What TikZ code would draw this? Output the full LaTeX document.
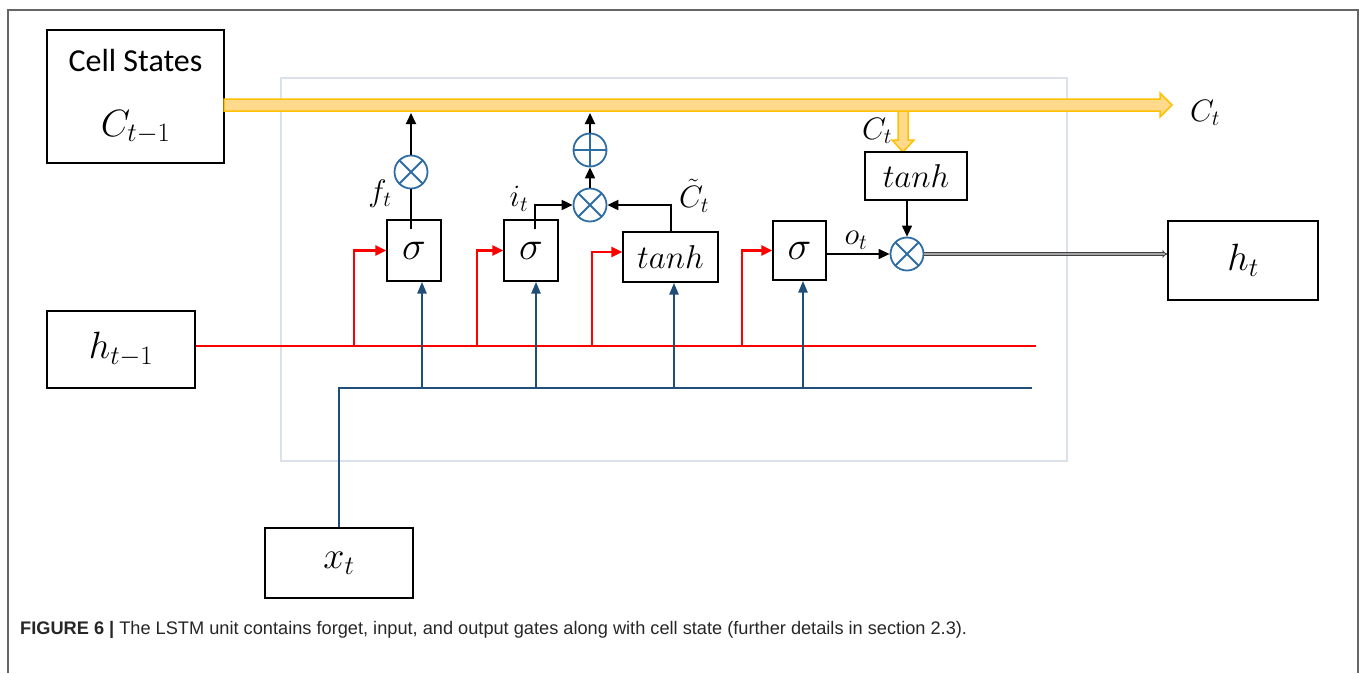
\RequirePackage{fix-cm}
\documentclass[tikz,border=0pt]{standalone}
\usepackage{fontspec}
\newfontfamily\calib{Carlito}
\newfontfamily\arial{Liberation Sans}
\usetikzlibrary{arrows.meta,calc}
\definecolor{yfill}{HTML}{FFD98C}
\definecolor{ydraw}{HTML}{FFC000}
\definecolor{bluel}{HTML}{1F4E79}
\definecolor{bluec}{HTML}{2E6DA4}
\definecolor{frameg}{HTML}{DAE1EA}
\tikzset{
  box/.style={draw=black, line width=1.4pt, inner sep=0pt, fill=white},
  opc/.style={circle, draw=bluec, line width=1.8pt, fill=white, minimum size=33pt, inner sep=0pt},
  mult/.style={opc, path picture={\draw[bluec, line width=1.8pt]
      ($(path picture bounding box.center)+(45:17)$) -- ($(path picture bounding box.center)+(225:17)$)
      ($(path picture bounding box.center)+(135:17)$) -- ($(path picture bounding box.center)+(315:17)$);}},
  addop/.style={opc, path picture={\draw[bluec, line width=1.8pt]
      ($(path picture bounding box.center)+(-17,0)$) -- ($(path picture bounding box.center)+(17,0)$)
      ($(path picture bounding box.center)+(0,-17)$) -- ($(path picture bounding box.center)+(0,17)$);}},
  blkarr/.style={draw=black, line width=2pt, -{Triangle[length=11pt,width=10pt]}},
  thinarr/.style={draw=black, line width=1.2pt, -{Triangle[length=11pt,width=10pt]}},
  bluearr/.style={draw=bluel, line width=2.6pt, -{Triangle[length=12pt,width=9pt]}},
  redarr/.style={draw=red, line width=2.6pt, -{Triangle[length=11pt,width=10pt]}},
  lbl/.style={inner sep=0pt, font=\fontsize{31}{34}\selectfont},
  mbig/.style={font=\fontsize{38}{42}\selectfont},
  sig/.style={font=\fontsize{40}{44}\selectfont},
  tnh/.style={font=\fontsize{33}{36}\selectfont},
}
\begin{document}
\begin{tikzpicture}[x=1pt,y=-1pt]
\useasboundingbox (0,0) rectangle (1360,673);
% outer frame
\draw[black!60, line width=1.4pt] (8,673) -- (8,10) -- (1358,10) -- (1358,673);
% inner light frame
\draw[frameg, line width=1.6pt] (281,78) rectangle (1067,461);

% boxes
\node[box, minimum width=177pt, minimum height=133pt] (cs) at (135.5,96.5) {};
\node[font=\calib\fontsize{32}{36}\selectfont] (cstxt) at (135.5,61) {Cell States};
\node[mbig] (cprev) at (135.5,127) {$C_{t-1}$};
\node[box, minimum width=148pt, minimum height=77pt, mbig] (hprev) at (121,349.5) {$h_{t-1}$};
\node[box, minimum width=148pt, minimum height=70pt, mbig] (xt) at (339,563) {$x_t$};
\node[box, minimum width=150pt, minimum height=79pt, mbig] (ht) at (1243,260.5) {$h_t$};
\node[box, minimum width=54pt, minimum height=61pt, sig] (sf) at (414,250.5) {$\sigma$};
\node[box, minimum width=54pt, minimum height=61pt, sig] (si) at (531,250.5) {$\sigma$};
\node[box, minimum width=95pt, minimum height=50pt, tnh] (tc) at (670.5,257) {$tanh$};
\node[box, minimum width=53pt, minimum height=59pt, sig] (so) at (799.5,250.5) {$\sigma$};

% yellow cell-state arrow
\draw[ydraw, fill=yfill, line width=1.5pt, line join=miter]
  (898,108) -- (898,140) -- (892,140) -- (903,152) -- (914,140) -- (908,140) -- (908,108);
\draw[ydraw, fill=yfill, line width=1.5pt, line join=miter]
  (224,99) -- (1160,99) -- (1160,93) -- (1172,105) -- (1160,117) -- (1160,111) -- (224,111) -- cycle;
\node[box, minimum width=102pt, minimum height=48pt, tnh] (to) at (916,176) {$tanh$};
\node[lbl] (ctout) at (1205,113) {$C_t$};
\node[lbl] (ctdown) at (877,131) {$C_t$};

% operators
\node[mult] (mf) at (411,172) {};
\node[mult] (mi) at (590,205) {};
\node[addop] (ad) at (590,150) {};
\node[mult] (mo) at (907,254) {};
\coordinate (topf) at (411,113);
\coordinate (topa) at (590,113);

% red h_{t-1} line
\coordinate (rend) at (1036,346);
\draw[red, line width=2.8pt] ($(hprev.east)+(0,-3.5)$) -- (rend);
\draw[redarr] (354,346) |- (sf.west);
\draw[redarr] (477,346) |- (si.west);
\draw[redarr] (592,346) |- ($(tc.west)+(0,-5)$);
\draw[redarr] (742,346) |- (so.west);

% blue x_t line
\coordinate (bend) at (1032,388);
\draw[bluel, line width=2.6pt] (xt.north) |- (bend);
\draw[bluearr] (422,388) -- ($(sf.south)+(8,0)$);
\draw[bluearr] (536,388) -- ($(si.south)+(5,0)$);
\draw[bluearr] (674,388) -- ($(tc.south)+(3.5,0)$);
\draw[bluearr] (803,388) -- ($(so.south)+(3.5,0)$);

% black gate connections
\draw[line width=2pt] ($(sf.north)+(-3,10)$) -- (mf.south);
\draw[blkarr] (mf.north) -- (topf);
\draw[blkarr] ($(si.north)+(4,10)$) |- (mi.west);
\draw[blkarr] (tc.north) |- (mi.east);
\draw[blkarr] (mi.north) -- (ad.south);
\draw[blkarr] (ad.north) -- (topa);
\draw[thinarr] ($(to.south)+(-9,0)$) -- (mo.north);
\draw[thinarr] (so.east |- mo.west) -- (mo.west);
\draw[draw=black!75, double=black!35, double distance=1.6pt, line width=0.9pt, -{Implies}] (mo.east) -- (ht.west |- mo.east);

% labels
\node[lbl] (lf) at (380,194) {$f_t$};
\node[lbl] (li) at (519,199) {$i_t$};
\node[lbl] (lc) at (694,196) {$\tilde{C}_t$};
\node[lbl] (lo) at (856,240) {$o_t$};

% caption
\node[anchor=base west, inner sep=0pt, font=\arial\fontsize{18.2}{21}\selectfont, text=black!85] (cap) at (20,634)
  {\textbf{FIGURE 6 |} The LSTM unit contains forget, input, and output gates along with cell state (further details in section 2.3).};
\end{tikzpicture}
\end{document}
